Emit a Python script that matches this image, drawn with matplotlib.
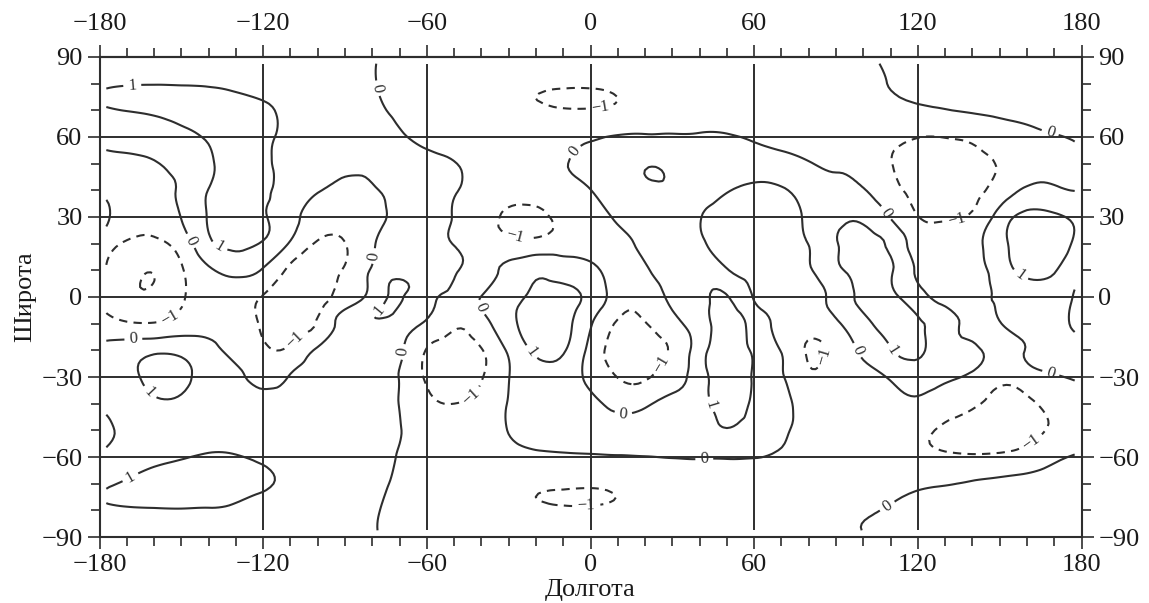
import numpy as np
import matplotlib
matplotlib.use('Agg')
import matplotlib.pyplot as plt
import matplotlib.tri as mtri
from matplotlib.ticker import FixedLocator

plt.rcParams['font.family'] = ['Liberation Serif', 'DejaVu Serif']
plt.rcParams['lines.dashed_pattern'] = [4.0, 3.0]

# grid nodes, 10 deg step
lon_nodes = np.arange(-180, 181, 10)
lat_nodes = np.arange(90, -91, -10)

# field values, one row per latitude (90 ... -90), columns lon -180 ... 180
anomaly = [
    [0.85, 0.9, 0.92, 0.9, 0.85, 0.78, 0.65, 0.5, 0.35, 0.2, 0.03, -0.12, -0.25, -0.38, -0.5, -0.6, -0.7, -0.75, -0.75, -0.7, -0.6, -0.5, -0.45, -0.4, -0.33, -0.26, -0.19, -0.12, -0.04, 0.04, 0.1, 0.16, 0.22, 0.27, 0.31, 0.34, 0.36],
    [0.85, 0.95, 0.97, 0.95, 0.93, 0.85, 0.7, 0.55, 0.4, 0.25, 0.03, -0.12, -0.25, -0.4, -0.55, -0.7, -0.85, -0.92, -0.92, -0.85, -0.72, -0.6, -0.52, -0.45, -0.38, -0.3, -0.22, -0.15, -0.07, 0.01, 0.08, 0.14, 0.2, 0.25, 0.3, 0.33, 0.35],
    [0.85, 1.02, 1.1, 1.2, 1.25, 1.25, 1.1, 0.85, 0.6, 0.35, 0.1, -0.08, -0.25, -0.4, -0.55, -0.7, -0.85, -0.95, -0.95, -0.85, -0.7, -0.55, -0.45, -0.4, -0.4, -0.38, -0.35, -0.32, -0.27, -0.2, -0.12, -0.03, 0.08, 0.17, 0.24, 0.3, 0.33],
    [0.2, 0.4, 0.6, 0.85, 1.05, 1.2, 1.1, 0.85, 0.6, 0.4, 0.22, 0.05, -0.1, -0.25, -0.4, -0.5, -0.55, -0.3, -0.08, 0.05, 0.08, 0.09, 0.09, 0.06, -0.06, -0.15, -0.25, -0.35, -0.5, -0.75, -0.98, -0.98, -0.85, -0.55, -0.25, -0.05, 0.08],
    [-0.25, -0.22, -0.07, 0.35, 0.9, 1.2, 1.1, 0.75, 0.4, 0.15, 0.12, 0.15, 0.1, 0.02, -0.2, -0.35, -0.3, -0.05, 0.15, 0.35, 0.85, 0.7, 0.45, 0.25, 0.12, 0.1, 0.03, -0.1, -0.3, -0.97, -1.2, -1.25, -1.15, -0.95, -0.55, -0.25, -0.1],
    [-0.15, -0.3, -0.25, 0.15, 1.02, 1.25, 1.1, 0.65, 0.08, -0.25, -0.08, 0.15, 0.15, 0.03, -0.2, -0.4, -0.5, -0.3, -0.01, 0.35, 0.75, 0.85, 0.5, 0.05, -0.12, -0.05, 0.15, 0.2, 0.05, -0.7, -1.15, -1.25, -1.2, -0.6, 0.15, 0.12, -0.02],
    [0.55, -0.6, -0.7, 0.03, 1.05, 1.3, 1.05, 0.4, -0.6, -0.7, -0.3, 0.2, 0.2, -0.02, -0.45, -1.25, -1.3, -0.7, -0.3, 0.1, 0.55, 0.7, 0.05, -0.3, -0.45, -0.3, 0.15, 0.75, 0.8, -0.05, -0.98, -1.1, -0.85, 0.4, 1.25, 1.15, 0.75],
    [-0.35, -1.1, -1.2, -0.55, 0.8, 1.2, 0.92, -0.12, -1.1, -1.02, -0.1, 0.3, 0.25, -0.02, -0.35, -0.65, -0.7, -0.55, -0.35, -0.2, 0.2, 0.5, 0.12, -0.3, -0.45, -0.3, 0.02, 0.95, 1.2, 0.8, -0.5, -0.75, -0.35, 0.7, 1.45, 1.35, 0.75],
    [-0.85, -1.6, -1.95, -1.1, -0.15, 0.3, -0.1, -1.2, -1.4, -0.9, 0.1, 0.6, 0.35, 0.08, -0.15, 0.2, 0.8, 0.6, 0.2, -0.3, -0.1, 0.4, 0.55, 0.05, -0.4, -0.4, -0.1, 0.8, 1.25, 1.1, -0.15, -0.6, -0.45, 0.5, 1.2, 1.05, 0.3],
    [-0.85, -1.75, -1.8, -1.1, -0.6, -0.6, -1.05, -1.45, -1.35, -0.6, 0.35, 1.08, 0.25, -0.2, 0.02, 0.6, 1.2, 1.25, 0.7, -0.5, -0.6, 0.15, 0.7, 1.05, -0.08, -0.6, -0.4, 0.35, 1.2, 1.15, 0.45, -0.4, -0.3, 0.12, 0.55, 0.6, -0.45],
    [-0.75, -0.9, -0.95, -0.6, -0.4, -0.55, -1.1, -1.3, -0.9, 0.45, 0.85, 0.5, -0.15, -0.85, -0.4, 0.7, 1.45, 1.3, 0.1, -1.1, -1.05, -0.3, 0.55, 1.4, 0.65, -0.3, -0.55, -0.15, 0.75, 1.25, 1.1, 0.5, -0.3, -0.05, 0.35, 0.25, -0.2],
    [0.3, 0.55, 0.8, 0.75, 0.3, -0.3, -0.85, -0.8, 0.15, 0.5, 0.5, 0.15, -1.05, -1.35, -1.05, 0.15, 1.15, 1.1, -0.3, -1.4, -1.45, -0.85, 0.55, 1.5, 0.85, -0.05, -1.1, -0.7, 0.2, 0.95, 1.15, 0.5, 0.2, -0.35, 0.05, 0.3, 0.25],
    [0.25, 0.7, 1.3, 1.25, 0.6, 0.2, -0.25, 0.05, 0.4, 0.5, 0.4, -0.03, -1.15, -1.5, -1.05, -0.03, 0.7, 0.5, -0.25, -1.02, -1.1, -0.45, 0.55, 1.5, 0.9, 0.1, -0.8, -0.55, -0.3, 0.1, 0.45, 0.2, -0.2, -0.7, -0.45, -0.1, 0.15],
    [0.05, 0.45, 0.85, 0.85, 0.5, 0.35, 0.3, 0.3, 0.3, 0.3, 0.3, -0.02, -0.75, -1.0, -0.7, 0.05, 0.5, 0.45, 0.25, -0.3, -0.15, 0.2, 0.55, 1.45, 0.8, 0.2, -0.35, -0.5, -0.45, -0.3, -0.15, -0.5, -0.88, -1.2, -1.15, -0.7, -0.3],
    [-0.25, 0.2, 0.5, 0.6, 0.65, 0.6, 0.5, 0.4, 0.35, 0.3, 0.2, 0.02, -0.3, -0.45, -0.3, 0.02, 0.3, 0.35, 0.4, 0.35, 0.4, 0.55, 0.75, 0.95, 0.6, 0.15, -0.3, -0.45, -0.5, -0.55, -0.75, -1.15, -1.3, -1.35, -1.2, -0.9, -0.55],
    [0.1, 0.5, 0.8, 0.95, 1.08, 1.05, 0.85, 0.55, 0.35, 0.25, 0.15, -0.03, -0.25, -0.35, -0.35, -0.25, -0.15, -0.1, -0.08, -0.05, -0.02, 0.03, 0.06, 0.06, 0.03, -0.12, -0.3, -0.45, -0.55, -0.65, -0.75, -0.85, -0.9, -0.85, -0.65, -0.2, 0.15],
    [0.8, 1.1, 1.3, 1.35, 1.35, 1.3, 1.12, 0.75, 0.45, 0.3, 0.12, -0.08, -0.3, -0.45, -0.55, -0.65, -0.8, -0.85, -0.88, -0.8, -0.65, -0.5, -0.4, -0.4, -0.42, -0.45, -0.45, -0.4, -0.35, -0.25, -0.12, -0.04, 0.08, 0.2, 0.3, 0.4, 0.45],
    [0.8, 0.9, 0.93, 0.95, 0.93, 0.85, 0.7, 0.5, 0.32, 0.18, 0.04, -0.12, -0.3, -0.45, -0.58, -0.7, -0.82, -0.9, -0.9, -0.85, -0.72, -0.6, -0.5, -0.42, -0.35, -0.28, -0.2, -0.12, -0.05, 0.04, 0.15, 0.2, 0.26, 0.32, 0.38, 0.44, 0.48],
    [0.7, 0.75, 0.78, 0.8, 0.78, 0.7, 0.58, 0.42, 0.27, 0.14, 0.03, -0.12, -0.27, -0.4, -0.5, -0.58, -0.65, -0.7, -0.7, -0.66, -0.58, -0.5, -0.42, -0.35, -0.28, -0.21, -0.14, -0.07, -0.01, 0.06, 0.13, 0.2, 0.26, 0.32, 0.37, 0.41, 0.44],
]

# extra samples for the narrow features between grid rows
extra_lon = [-175, -165, -155, -145, -135, -125, -115,
             -25, -15, -5, 5, 15,
             -175, -165, -150, -135, -125,
             -25, -15, -5, 5, 15,
             24, -68, -76, 84, -163, -96,
             -45, -47, 148, -175]
extra_lat = [75, 75, 75, 75, 75, 75, 75,
             75, 75, 75, 75, 75,
             -75, -75, -75, -75, -75,
             -75, -75, -75, -75, -75,
             46, 5, -6, -21, 7, 22,
             4, -3, -17, 30]
extra_val = [1.15, 1.25, 1.3, 1.28, 1.15, 1.02, 0.85,
             -0.9, -1.07, -1.12, -1.08, -0.9,
             1.12, 1.25, 1.3, 1.22, 1.0,
             -0.88, -1.06, -1.1, -1.07, -0.88,
             1.07, 1.08, 1.08, -1.12, -2.04, -1.08,
             -0.3, -0.4, -0.45, -0.17]

levels = [-2, -1, 0, 1]
label_text = {-2: '\u22122', -1: '\u22121', 0: '0', 1: '1'}
label_spots = [
    (-168, 79.5), (-136.5, 18.3), (-161.5, -35.6), (-168.8, -67.4), (-77.9, -4.9),
    (-21.7, -20.6), (43, -40.6), (110.8, -19.9), (156.6, 7),
    (-77.9, 78.3), (-147.1, 20.8), (-80, 15.4), (-167.6, -15.6), (-68.7, -20.6),
    (-38.2, -3), (-5.8, 54.5), (108.4, 31.6), (98, -19.9), (11.9, -44.7),
    (41.8, -62.4), (168.2, 60.8), (169.4, -26.8), (109, -78.7),
    (3.3, 72), (-27.2, 24.1), (-155.4, -6.2), (-108.4, -16.2), (-43.7, -37.4),
    (27.8, -26.2), (-1.6, -77.4), (160.9, -53.7), (134.6, 27), (85.8, -22.4),
]

x_ticks = [-180, -120, -60, 0, 60, 120, 180]
x_minor = list(range(-180, 181, 10))
y_ticks = [-90, -60, -30, 0, 30, 60, 90]
y_minor = list(range(-90, 91, 10))

# smooth field from the samples
LON, LAT = np.meshgrid(lon_nodes, lat_nodes)
px = np.concatenate([LON.ravel(), extra_lon])
py = np.concatenate([LAT.ravel(), extra_lat])
pz = np.concatenate([np.array(anomaly).ravel(), extra_val])
tri = mtri.Triangulation(px, py)
interp = mtri.CubicTriInterpolator(tri, pz, kind='min_E')

lon_f = np.linspace(-177.5, 177.5, 285)
lat_f = np.linspace(-87.5, 87.5, 141)
LONf, LATf = np.meshgrid(lon_f, lat_f)
Zf = interp(LONf, LATf)

ink = '#2e2e2e'
fig = plt.figure(figsize=(11.49, 6.03), dpi=100)
ax = fig.add_axes([99.5 / 1149, 66 / 603, 982 / 1149, 480 / 603])

ax.vlines(x_ticks[1:-1], -87.5, 87.5, color=ink, lw=1.4, zorder=1)
ax.hlines(y_ticks[1:-1], -180, 180, color=ink, lw=1.4, zorder=1)

cs = ax.contour(LONf, LATf, Zf, levels=levels, colors=ink, linewidths=1.5,
                linestyles=['dashed', 'dashed', 'solid', 'solid'], zorder=2)
ax.clabel(cs, fmt=label_text, fontsize=12, inline=True,
          inline_spacing=4, manual=label_spots)

ax.set_xlim(-180, 180)
ax.set_ylim(-90, 90)
ax.xaxis.set_major_locator(FixedLocator(x_ticks))
ax.xaxis.set_minor_locator(FixedLocator(x_minor))
ax.yaxis.set_major_locator(FixedLocator(y_ticks))
ax.yaxis.set_minor_locator(FixedLocator(y_minor))
ax.tick_params(which='both', direction='out', width=1.2, color=ink,
               labelsize=19, labelcolor='#1a1a1a', right=True, labelright=True, top=False)
ax.tick_params(which='major', length=8.6, pad=3.6)
ax.tick_params(which='minor', length=6.5)

top = ax.secondary_xaxis('top')
top.xaxis.set_major_locator(FixedLocator(x_ticks))
top.xaxis.set_minor_locator(FixedLocator(x_minor))
top.tick_params(which='both', direction='out', width=1.2, color=ink,
                labelsize=19, labelcolor='#1a1a1a')
top.tick_params(which='major', length=8.6, pad=7)
top.tick_params(which='minor', length=6.5)
top.spines['top'].set_linewidth(1.5)
top.spines['top'].set_color(ink)

for sp in ax.spines.values():
    sp.set_linewidth(1.5)
    sp.set_color(ink)

ax.set_xlabel('Долгота', fontsize=19, labelpad=2, color='#1a1a1a')
ax.set_ylabel('Широта', fontsize=19, labelpad=4, color='#1a1a1a')

fig.savefig('out.png', dpi=100)
